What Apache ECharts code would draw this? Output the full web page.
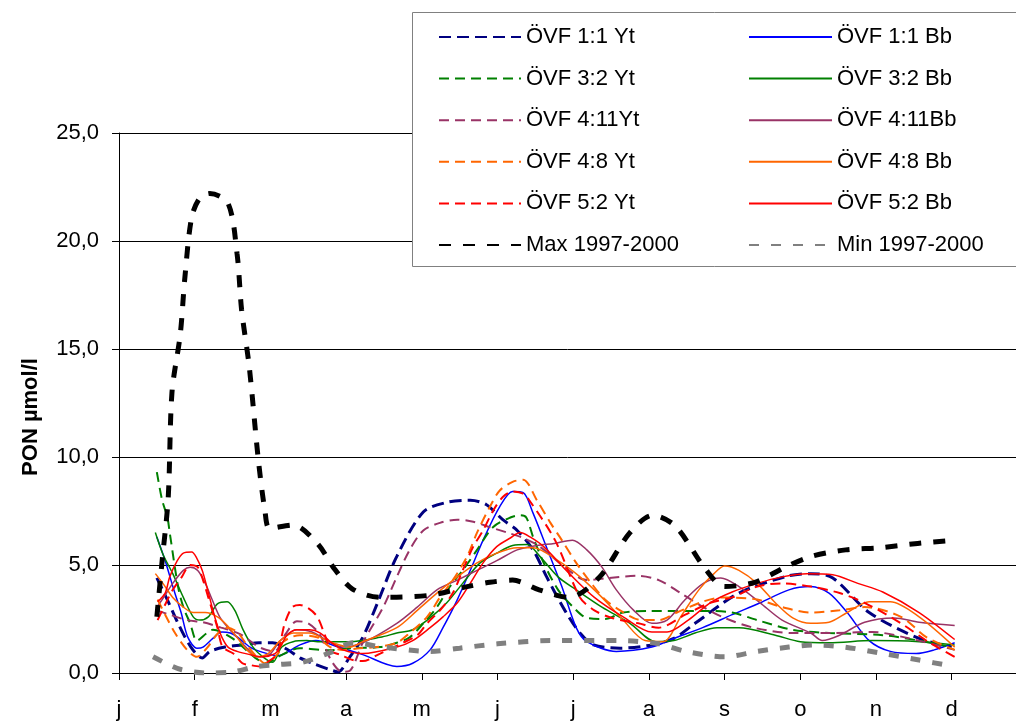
<!DOCTYPE html>
<html>
<head>
<meta charset="utf-8">
<script src="https://cdn.jsdelivr.net/npm/echarts@6/dist/echarts.min.js"></script>
<style>
html,body{margin:0;padding:0;background:#fff;}
#chart{width:1016px;height:722px;}
</style>
</head>
<body>
<div id="chart"></div>
<script>
// month labels (x position = months since 1 Jan)
const monthLabels = ['j','f','m','a','m','j','j','a','s','o','n','d'];
const monthTicks = [0,1,2,3,4,5,6,7,8,9,10,11];
const yTicks = [0, 5, 10, 15, 20, 25];

// series data: [month, PON µmol/l]
const ovf11Yt = [[0.50,4.4],[0.65,3.3],[0.78,2.3],[0.95,1.2],[1.10,0.7],[1.20,1.0],[1.40,1.2],[1.62,1.3],[1.85,1.4],[2.03,1.4],[2.22,1.1],[2.39,0.7],[2.56,0.45],[2.79,0.15],[2.89,0.05],[3.05,0.75],[3.22,1.65],[3.41,3.2],[3.67,5.4],[4.02,7.45],[4.33,7.9],[4.64,8.0],[4.85,7.8],[5.07,7.1],[5.26,6.6],[5.47,5.7],[5.65,4.45],[5.89,2.9],[6.09,1.85],[6.27,1.3],[6.62,1.15],[7.04,1.3],[7.33,1.6],[7.61,2.3],[8.19,3.7],[8.85,4.5],[9.14,4.6],[9.43,4.4],[9.91,2.8],[10.57,1.6],[11.0,1.2]];
const ovf11Bb = [[0.50,6.3],[0.61,5.2],[0.72,3.9],[0.82,2.8],[0.91,1.65],[1.03,1.15],[1.11,1.2],[1.24,1.6],[1.36,1.9],[1.47,1.85],[1.57,1.65],[1.73,1.2],[1.86,1.0],[2.1,0.8],[2.39,1.3],[2.6,1.5],[2.9,1.2],[3.22,0.85],[3.67,0.3],[3.88,0.45],[4.11,1.07],[4.28,2.1],[4.47,3.4],[4.64,4.75],[4.81,6.15],[5.03,7.7],[5.2,8.4],[5.34,8.35],[5.47,7.4],[5.65,5.8],[5.85,4.0],[6.04,2.1],[6.18,1.45],[6.57,1.0],[7.04,1.2],[7.33,1.6],[7.71,2.1],[8.1,2.7],[8.47,3.25],[8.85,3.85],[9.14,4.0],[9.38,3.7],[9.62,2.8],[9.91,1.5],[10.19,1.0],[10.53,0.9],[10.77,1.07],[11.04,1.4]];
const ovf32Yt = [[0.50,9.3],[0.57,8.0],[0.64,7.2],[0.67,6.5],[0.78,4.0],[0.85,3.05],[0.94,2.3],[1.03,1.5],[1.16,1.85],[1.24,2.0],[1.5,1.6],[1.8,0.7],[1.95,0.45],[2.1,0.75],[2.39,1.15],[2.75,1.05],[3.1,1.15],[3.45,1.2],[3.67,1.4],[3.84,1.65],[4.02,2.3],[4.2,3.05],[4.37,4.0],[4.54,4.75],[4.73,5.7],[4.94,6.75],[5.17,7.2],[5.3,7.3],[5.38,7.2],[5.47,6.3],[5.61,5.1],[5.8,3.85],[6.0,3.05],[6.18,2.55],[6.42,2.5],[6.66,2.8],[7.0,2.87],[7.8,2.87],[8.1,2.8],[8.43,2.45],[8.9,2.0],[9.38,1.85],[10.09,1.75],[10.57,1.5],[11.0,1.2]];
const ovf32Bb = [[0.48,6.5],[0.58,5.5],[0.71,4.6],[0.85,3.5],[0.98,2.6],[1.07,2.45],[1.18,2.6],[1.30,3.2],[1.43,3.3],[1.53,2.9],[1.64,2.0],[1.77,1.2],[1.90,0.75],[2.03,0.5],[2.15,1.2],[2.3,1.45],[2.48,1.5],[2.66,1.45],[3.05,1.45],[3.45,1.65],[3.67,1.85],[3.88,2.0],[4.11,2.55],[4.33,3.25],[4.54,4.15],[4.77,5.1],[4.99,5.55],[5.2,5.9],[5.39,5.95],[5.56,5.4],[5.8,4.45],[6.04,3.85],[6.38,3.05],[6.75,2.3],[7.09,1.45],[7.33,1.5],[7.61,1.85],[7.9,2.1],[8.19,2.1],[8.67,1.75],[9.0,1.45],[9.38,1.4],[9.95,1.5],[10.57,1.45],[11.04,1.3]];
const ovf411Yt = [[0.5,2.9],[0.67,2.7],[0.9,2.45],[1.11,2.35],[1.35,2.1],[1.6,1.8],[1.85,1.2],[2.05,1.0],[2.2,1.8],[2.35,2.4],[2.5,2.3],[2.65,1.8],[2.8,0.6],[2.95,0.05],[3.05,0.1],[3.22,1.4],[3.49,3.05],[3.67,4.45],[3.84,5.7],[4.02,6.6],[4.24,6.95],[4.47,7.1],[4.68,7.0],[4.9,6.75],[5.13,6.5],[5.34,6.25],[5.56,5.85],[5.89,4.9],[6.18,4.3],[6.47,4.4],[6.86,4.5],[7.13,4.3],[7.42,3.7],[7.72,3.05],[8.0,2.55],[8.38,2.1],[8.9,1.85],[9.38,1.85],[9.95,1.9],[10.38,1.65],[11.04,1.07]];
const ovf411Bb = [[0.49,3.0],[0.58,3.45],[0.71,4.15],[0.85,4.75],[0.94,4.9],[1.04,4.75],[1.14,4.15],[1.23,3.4],[1.33,2.6],[1.44,2.1],[1.56,1.65],[1.69,1.15],[1.82,0.75],[1.97,0.8],[2.13,1.5],[2.35,2.0],[2.55,1.9],[2.75,1.5],[2.95,1.2],[3.22,1.4],[3.67,2.3],[3.94,3.05],[4.2,3.85],[4.47,4.3],[4.73,4.75],[4.99,5.2],[5.26,5.7],[5.52,5.9],[5.75,6.0],[5.99,6.15],[6.18,5.7],[6.38,4.9],[6.57,3.85],[6.8,2.9],[7.04,2.3],[7.24,2.45],[7.48,3.4],[7.72,4.15],[7.95,4.4],[8.19,4.0],[8.47,3.25],[8.76,2.45],[9.14,1.85],[9.29,1.5],[9.52,1.75],[9.85,2.35],[10.24,2.55],[10.57,2.35],[11.04,2.2]];
const ovf48Yt = [[0.51,3.4],[0.61,2.7],[0.74,1.85],[0.9,1.07],[1.03,0.75],[1.16,1.15],[1.31,1.85],[1.43,2.1],[1.56,1.9],[1.69,1.3],[1.82,0.75],[1.93,0.45],[2.1,0.9],[2.17,1.45],[2.39,1.75],[2.62,1.65],[2.79,1.2],[2.96,1.07],[3.18,1.15],[3.41,1.2],[3.67,1.4],[3.84,1.85],[4.07,2.6],[4.24,3.5],[4.41,4.3],[4.6,5.4],[4.73,6.5],[4.9,7.7],[5.03,8.45],[5.2,8.85],[5.34,8.95],[5.52,8.0],[5.7,6.95],[5.85,6.15],[6.04,5.1],[6.24,4.15],[6.42,3.4],[6.62,2.9],[6.9,2.45],[7.13,2.45],[7.37,2.8],[7.71,3.3],[7.99,3.5],[8.43,3.4],[8.76,3.05],[9.14,2.8],[9.52,2.9],[9.85,3.05],[10.33,2.6],[10.67,1.65],[11.04,1.07]];
const ovf48Bb = [[0.48,4.6],[0.58,4.15],[0.71,3.5],[0.85,3.05],[0.98,2.8],[1.14,2.8],[1.3,2.6],[1.43,2.2],[1.56,1.65],[1.69,1.07],[1.82,0.75],[1.97,0.9],[2.13,1.5],[2.3,1.85],[2.52,1.85],[2.75,1.5],[3.05,1.2],[3.22,1.45],[3.67,2.1],[3.94,2.9],[4.2,3.7],[4.47,4.45],[4.73,5.1],[4.99,5.55],[5.26,5.8],[5.47,5.8],[5.8,5.2],[6.09,4.45],[6.38,3.5],[6.66,2.45],[6.95,1.5],[7.19,1.45],[7.42,2.6],[7.66,3.85],[7.86,4.6],[8.0,4.95],[8.19,4.75],[8.43,4.15],[8.67,3.25],[8.9,2.55],[9.14,2.3],[9.38,2.35],[9.62,2.8],[9.91,3.3],[10.19,3.3],[10.57,2.6],[11.04,1.2]];
const ovf52Yt = [[0.51,2.45],[0.6,3.1],[0.71,3.85],[0.83,4.45],[0.94,5.0],[1.04,4.9],[1.11,4.3],[1.18,3.5],[1.30,2.1],[1.37,1.2],[1.51,0.9],[1.63,0.45],[1.73,0.37],[1.86,0.3],[1.96,0.5],[2.09,0.9],[2.19,2.3],[2.29,3.05],[2.39,3.15],[2.5,3.0],[2.62,2.6],[2.72,1.75],[2.81,1.0],[2.92,0.85],[3.09,0.6],[3.22,0.55],[3.45,0.9],[3.75,1.4],[3.94,1.75],[4.07,2.3],[4.24,2.9],[4.41,3.7],[4.54,4.75],[4.68,5.85],[4.81,6.6],[4.94,7.5],[5.07,8.15],[5.2,8.4],[5.34,8.3],[5.42,8.0],[5.76,6.15],[6.09,3.5],[6.28,2.9],[6.51,2.55],[6.86,2.3],[7.13,2.1],[7.48,2.7],[7.81,3.25],[8.1,3.5],[8.43,4.0],[8.76,4.15],[9.14,4.0],[9.52,3.7],[9.85,3.25],[10.33,2.3],[10.71,1.4],[11.04,0.75]];
const ovf52Bb = [[0.51,3.3],[0.61,3.7],[0.67,4.45],[0.77,5.2],[0.85,5.55],[0.96,5.6],[1.03,5.3],[1.10,4.75],[1.16,4.0],[1.23,3.05],[1.29,2.3],[1.36,1.65],[1.44,1.2],[1.56,1.0],[1.73,0.85],[1.9,0.75],[2.06,0.9],[2.13,1.2],[2.22,1.75],[2.35,2.0],[2.52,2.0],[2.66,1.85],[2.79,1.45],[2.96,1.07],[3.22,0.9],[3.67,1.2],[3.88,1.5],[4.11,2.1],[4.28,2.6],[4.47,3.25],[4.64,4.15],[4.81,5.1],[4.99,5.85],[5.17,6.25],[5.3,6.5],[5.43,6.3],[5.61,5.85],[5.95,4.6],[6.28,3.5],[6.66,2.6],[7.04,1.9],[7.24,1.9],[7.52,2.45],[7.81,3.25],[8.1,3.75],[8.43,4.15],[8.76,4.45],[9.09,4.6],[9.43,4.55],[9.76,4.15],[10.09,3.75],[10.57,2.8],[11.04,1.55]];
const max9700 = [[0.50,2.6],[0.57,5.2],[0.65,8.1],[0.70,13.0],[0.81,15.7],[0.87,18.3],[0.96,21.1],[1.07,22.0],[1.20,22.2],[1.44,21.75],[1.56,19.4],[1.62,16.8],[1.72,14.2],[1.84,9.9],[1.93,7.45],[1.99,6.7],[2.30,6.85],[2.62,6.0],[2.85,4.8],[3.08,3.9],[3.45,3.5],[4.11,3.6],[4.6,4.0],[4.9,4.2],[5.2,4.3],[5.55,3.85],[5.95,3.5],[6.35,4.45],[6.75,6.5],[7.05,7.3],[7.35,6.8],[7.75,4.8],[8.0,4.0],[8.4,4.2],[8.8,4.9],[9.15,5.4],[9.6,5.7],[10.05,5.8],[10.55,6.0],[11.04,6.15]];
const min9700 = [[0.45,0.75],[0.62,0.45],[0.83,0.15],[1.14,0.0],[1.5,0.05],[1.82,0.3],[2.13,0.4],[2.43,0.5],[2.83,1.0],[3.09,1.4],[3.49,1.2],[4.11,1.0],[4.5,1.15],[5.0,1.35],[5.7,1.5],[6.62,1.5],[7.13,1.35],[7.49,1.0],[8.0,0.75],[8.43,1.0],[8.85,1.2],[9.19,1.3],[9.59,1.2],[10.05,0.93],[10.57,0.6],[11.03,0.3]];

const FONT = 'Liberation Sans, Arial, sans-serif';

function mk(name, data, color, width, dash) {
  return {
    name: name, type: 'line', data: data, smooth: 0.3,
    symbol: 'none', showSymbol: false, animation: false,
    lineStyle: { color: color, width: width, type: dash || 'solid' },
    itemStyle: { color: color }
  };
}

const series = [
  mk('ÖVF 1:1 Yt', ovf11Yt, '#000080', 3, [12, 6]),
  mk('ÖVF 1:1 Bb', ovf11Bb, '#0000FF', 1.5),
  mk('ÖVF 3:2 Yt', ovf32Yt, '#008000', 2, [10, 6]),
  mk('ÖVF 3:2 Bb', ovf32Bb, '#008000', 1.5),
  mk('ÖVF 4:11Yt', ovf411Yt, '#993366', 2, [10, 6]),
  mk('ÖVF 4:11Bb', ovf411Bb, '#993366', 1.5),
  mk('ÖVF 4:8 Yt', ovf48Yt, '#FF6600', 2, [10, 6]),
  mk('ÖVF 4:8 Bb', ovf48Bb, '#FF6600', 1.5),
  mk('ÖVF 5:2 Yt', ovf52Yt, '#FF0000', 2, [10, 6]),
  mk('ÖVF 5:2 Bb', ovf52Bb, '#FF0000', 1.5),
  mk('Max 1997-2000', max9700, '#000000', 5, [12, 12]),
  mk('Min 1997-2000', min9700, '#808080', 5, [10, 12])
];

const legendCommon = {
  orient: 'vertical', top: 21, itemHeight: 14, itemGap: 19.6,
  selectedMode: false, z: 10,
  itemStyle: { opacity: 0 },
  textStyle: { fontFamily: FONT, fontSize: 22, lineHeight: 22, color: '#000' }
};

const chart = echarts.init(document.getElementById('chart'), null, { renderer: 'canvas' });
chart.setOption({
  animation: false,
  backgroundColor: '#fff',
  grid: { left: 119, right: 0, top: 133, bottom: 49, containLabel: false },
  xAxis: {
    type: 'value', min: 0, max: 11.85, interval: 1,
    axisLine: { show: true, lineStyle: { color: '#000', width: 1 } },
    axisTick: { show: true, length: 7, customValues: monthTicks, lineStyle: { color: '#000' } },
    splitLine: { show: false },
    axisLabel: {
      margin: 26, color: '#000', fontFamily: FONT, fontSize: 22, customValues: monthTicks,
      formatter: function (v) { return Number.isInteger(v) && monthLabels[v] ? monthLabels[v] : ''; }
    }
  },
  yAxis: {
    type: 'value', min: yTicks[0], max: yTicks[yTicks.length - 1], interval: 5,
    name: 'PON µmol/l', nameLocation: 'middle', nameGap: 77, nameRotate: 90,
    nameTextStyle: { fontFamily: FONT, fontSize: 22, fontWeight: 'bold', color: '#000', padding: [0, 28, 0, 0] },
    axisLine: { show: true, lineStyle: { color: '#000', width: 1 } },
    axisTick: { show: true, length: 7, lineStyle: { color: '#000' } },
    splitLine: { show: true, lineStyle: { color: '#000', width: 1 } },
    axisLabel: {
      margin: 20, color: '#000', fontFamily: FONT, fontSize: 22,
      formatter: function (v) { return v.toFixed(1).replace('.', ','); }
    }
  },
  legend: [
    Object.assign({}, legendCommon, { left: 433, itemWidth: 82,
      data: ['ÖVF 1:1 Yt', 'ÖVF 3:2 Yt', 'ÖVF 4:11Yt', 'ÖVF 4:8 Yt', 'ÖVF 5:2 Yt', 'Max 1997-2000'] }),
    Object.assign({}, legendCommon, { left: 743, itemWidth: 83,
      data: ['ÖVF 1:1 Bb', 'ÖVF 3:2 Bb', 'ÖVF 4:11Bb', 'ÖVF 4:8 Bb', 'ÖVF 5:2 Bb', 'Min 1997-2000'] })
  ],
  graphic: [{
    type: 'rect', z: 5, silent: true,
    shape: { x: 412.5, y: 12.5, width: 640, height: 254 },
    style: { fill: '#fff', stroke: '#808080', lineWidth: 1 }
  }],
  series: series
});
</script>
</body>
</html>
